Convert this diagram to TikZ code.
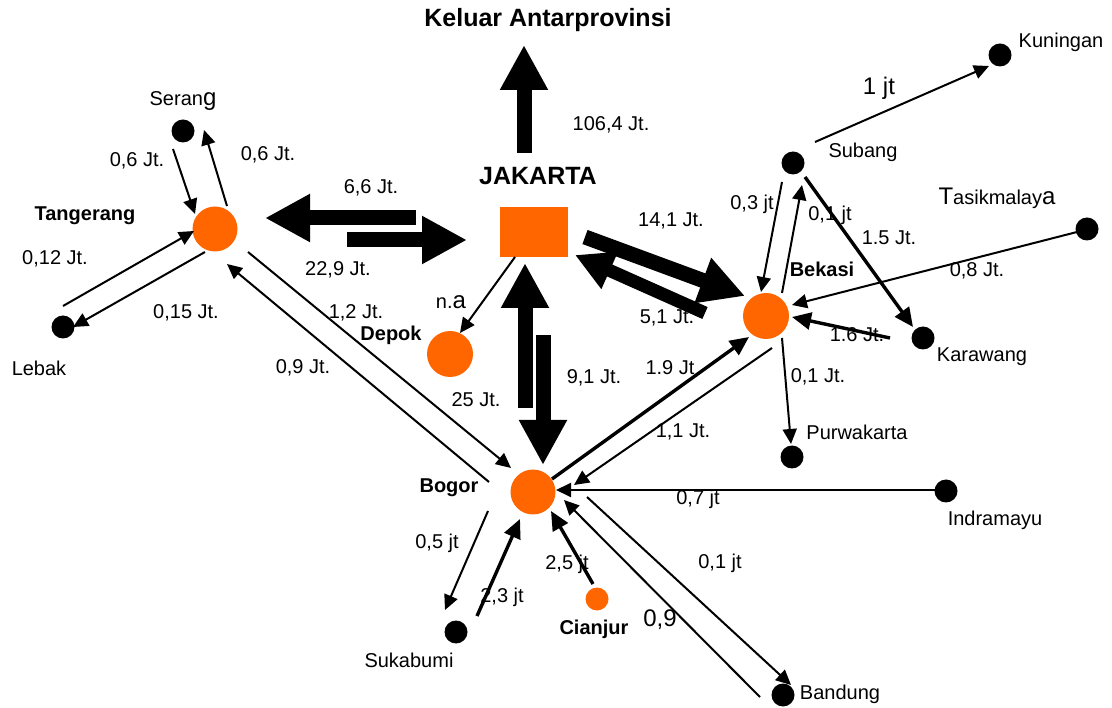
\documentclass[tikz,border=0pt]{standalone}
\usepackage{fontspec}
\setmainfont{Liberation Sans}
\usetikzlibrary{arrows.meta}
\definecolor{org}{RGB}{255,102,0}
\begin{document}
\begin{tikzpicture}[x=1pt,y=-1pt,
  lbl/.style={font=\fontsize{20}{24}\selectfont, inner sep=0pt},
  blbl/.style={font=\fontsize{20}{24}\selectfont\bfseries, inner sep=0pt},
  ttl/.style={font=\fontsize{25}{30}\selectfont\bfseries, inner sep=0pt},
  biglbl/.style={font=\fontsize{24}{28}\selectfont, inner sep=0pt},
  city/.style={circle, fill=org, minimum size=45pt, inner sep=0pt},
  bdot/.style={circle, fill=black, minimum size=23pt, inner sep=0pt},
  tarr/.style={line width=2pt, -{Triangle[length=15pt,width=14pt]}},
  karr/.style={line width=3.4pt, -{Triangle[length=19pt,width=17pt]}},
  barr/.style={line width=15pt, -{Triangle[length=45pt,width=45pt]}},
]
\useasboundingbox (0,0) rectangle (1112,708);

% ---- places
\node[rectangle, fill=org, minimum width=68pt, minimum height=50pt, inner sep=0pt] (jak) at (534,232) {};
\node[city] (tng) at (215,229) {};
\node[city, minimum size=46pt] (dep) at (450,354) {};
\node[city, minimum size=46pt] (bks) at (766,316) {};
\node[city] (bgr) at (533,492) {};
\node[city, minimum size=23pt] (cjr) at (597,599) {};
\node[bdot] (srg) at (183,131) {};
\node[bdot] (lbk) at (63,327) {};
\node[bdot] (sbg) at (793,163) {};
\node[bdot] (kng) at (1000,55) {};
\node[bdot] (tsk) at (1087,229) {};
\node[bdot] (krw) at (923,338) {};
\node[bdot] (pwk) at (792,457) {};
\node[bdot] (skb) at (456,632) {};
\node[bdot] (bdg) at (783,695) {};
\node[bdot] (idm) at (946,491) {};

% ---- names
\node[ttl] (tKel) at (548,20) {Keluar Antarprovinsi};
\node[ttl] (tJak) at (538,176) {JAKARTA};
\node[blbl] (tTng) at (85,216) {Tangerang};
\node[blbl] (tDep) at (391,335) {Depok};
\node[blbl] (tBks) at (822,269) {Bekasi};
\node[blbl] (tBgr) at (449,488) {Bogor};
\node[blbl] (tCjr) at (594,629) {Cianjur};
\node[lbl] (tSrg) at (183,101) {Seran{\fontsize{24}{28}\selectfont g}};
\node[lbl] (tLbk) at (39,368) {Lebak};
\node[lbl] (tSbg) at (863,152) {Subang};
\node[lbl] (tKng) at (1061,42) {Kuningan};
\node[lbl] (tTsk) at (997,198) {{\fontsize{24}{28}\selectfont T}asikmalay{\fontsize{24}{28}\selectfont a}};
\node[lbl] (tKrw) at (982,357) {Karawang};
\node[lbl] (tPwk) at (857,432) {Purwakarta};
\node[lbl] (tIdm) at (995,520) {Indramayu};
\node[lbl] (tSkb) at (409,660) {Sukabumi};
\node[lbl] (tBdg) at (840,694) {Bandung};

% ---- flow labels
\node[lbl] (v1) at (611,125) {106,4 Jt.};
\node[lbl] (v2) at (371,188) {6,6 Jt.};
\node[lbl] (v3) at (338,270) {22,9 Jt.};
\node[lbl] (v4) at (137,161) {0,6 Jt.};
\node[lbl] (v5) at (268,155) {0,6 Jt.};
\node[lbl] (v6) at (55,259) {0,12 Jt.};
\node[lbl] (v7) at (186,313) {0,15 Jt.};
\node[lbl] (v8) at (303,368) {0,9 Jt.};
\node[lbl] (v9) at (356,313) {1,2 Jt.};
\node[lbl] (v10) at (451,302) {n.{\fontsize{24}{28}\selectfont a}};
\node[lbl] (v11) at (476,400) {25 Jt.};
\node[lbl] (v12) at (594,378) {9,1 Jt.};
\node[lbl] (v13) at (671,221) {14,1 Jt.};
\node[lbl] (v14) at (667,318) {5,1 Jt.};
\node[lbl] (v15) at (670,368) {1.9 Jt};
\node[lbl] (v16) at (683,432) {1,1 Jt.};
\node[lbl] (v17) at (752,204) {0,3 jt};
\node[lbl] (v18) at (830,215) {0,1 jt};
\node[lbl] (v19) at (889,238) {1.5 Jt.};
\node[lbl] (v20) at (857,335) {1.6 Jt.};
\node[lbl] (v21) at (818,377) {0,1 Jt.};
\node[biglbl] (v22) at (879,88) {1 jt};
\node[lbl] (v23) at (977,271) {0,8 Jt.};
\node[lbl] (v24) at (698,499) {0,7 jt};
\node[lbl] (v25) at (437,543) {0,5 jt};
\node[lbl] (v26) at (502,597) {2,3 jt};
\node[lbl] (v27) at (567,564) {2,5 jt};
\node[biglbl] (v28) at (660,620) {0,9};
\node[lbl] (v29) at (720,563) {0,1 jt};

% ---- arrow ends
\coordinate (ku1) at (524,153); \coordinate (ku2) at (524,45);
\coordinate (jt1) at (416,218); \coordinate (jt2) at (265,218);
\coordinate (tj1) at (347,240); \coordinate (tj2) at (467,240);
\coordinate (bj1) at (525,408); \coordinate (bj2) at (525,263);
\coordinate (jb1) at (543,335); \coordinate (jb2) at (543,465);
\coordinate (je1) at (585,237); \coordinate (je2) at (745,296);
\coordinate (ej1) at (705,313); \coordinate (ej2) at (575,255);

\coordinate (a1) at (173,149); \coordinate (a2) at (195,214);
\coordinate (b1) at (227,206); \coordinate (b2) at (204,130);
\coordinate (c1) at (63,306);  \coordinate (c2) at (194,231);
\coordinate (d1) at (205,252); \coordinate (d2) at (73,327);
\coordinate (e1) at (248,252); \coordinate (e2) at (511,468);
\coordinate (f1) at (489,482); \coordinate (f2) at (227,264);
\coordinate (g1) at (515,257); \coordinate (g2) at (460,333);
\coordinate (h1) at (772,348); \coordinate (h2) at (574,485);
\coordinate (i1) at (782,182); \coordinate (i2) at (761,292);
\coordinate (j1) at (782,293); \coordinate (j2) at (802,185);
\coordinate (k1) at (815,142); \coordinate (k2) at (989,66);
\coordinate (l1) at (1077,232); \coordinate (l2) at (792,305);
\coordinate (m1) at (782,338); \coordinate (m2) at (791,444);
\coordinate (n1) at (935,490); \coordinate (n2) at (556,490);
\coordinate (o1) at (488,511); \coordinate (o2) at (445,610);
\coordinate (p1) at (760,697); \coordinate (p2) at (564,500);
\coordinate (q1) at (587,497); \coordinate (q2) at (791,685);
\coordinate (r1) at (805,177); \coordinate (r2) at (913,327);
\coordinate (s1) at (552,479); \coordinate (s2) at (749,337);
\coordinate (t1) at (890,338); \coordinate (t2) at (792,317);
\coordinate (u1) at (477,616); \coordinate (u2) at (520,519);
\coordinate (w1) at (593,584); \coordinate (w2) at (551,511);

% ---- big arrows
\draw[barr] (ku1) -- (ku2);
\draw[barr] (jt1) -- (jt2);
\draw[barr] (tj1) -- (tj2);
\draw[barr] (bj1) -- (bj2);
\draw[barr] (jb1) -- (jb2);
\draw[barr] (je1) -- (je2);
\draw[barr, line width=13pt, -{Triangle[length=38pt,width=38pt]}] (ej1) -- (ej2);

% ---- thin arrows
\foreach \s/\e in {a1/a2,b1/b2,c1/c2,d1/d2,e1/e2,f1/f2,g1/g2,h1/h2,i1/i2,j1/j2,k1/k2,l1/l2,m1/m2,n1/n2,o1/o2,p1/p2,q1/q2}
  \draw[tarr] (\s) -- (\e);
% ---- thick arrows
\foreach \s/\e in {r1/r2,s1/s2,t1/t2,u1/u2,w1/w2}
  \draw[karr] (\s) -- (\e);
\end{tikzpicture}
\end{document}
